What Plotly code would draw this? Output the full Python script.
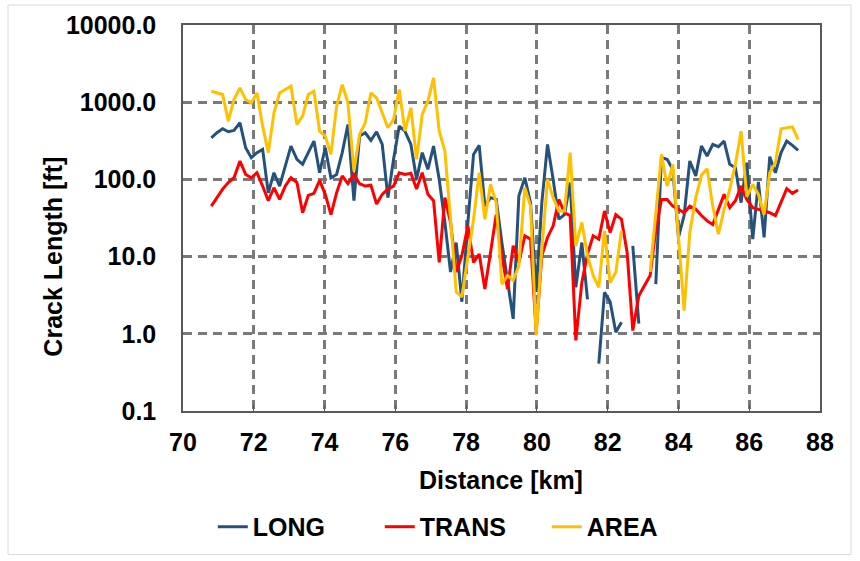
import plotly.graph_objects as go

# Station distance along the route [km]
distance_km = [
    70.80, 70.96, 71.12, 71.28, 71.44, 71.61, 71.77, 71.93, 72.09, 72.25,
    72.41, 72.57, 72.73, 72.89, 73.05, 73.22, 73.38, 73.54, 73.70, 73.86,
    74.02, 74.18, 74.34, 74.50, 74.66, 74.83, 74.99, 75.15, 75.31, 75.47,
    75.63, 75.79, 75.95, 76.11, 76.27, 76.44, 76.60, 76.76, 76.92, 77.08,
    77.24, 77.40, 77.56, 77.72, 77.88, 78.05, 78.21, 78.37, 78.53, 78.69,
    78.85, 79.01, 79.17, 79.33, 79.49, 79.66, 79.82, 79.98, 80.14, 80.30,
    80.46, 80.62, 80.78, 80.94, 81.10, 81.27, 81.43, 81.59, 81.75, 81.91,
    82.07, 82.23, 82.39, 82.55, 82.71, 82.88, 83.04, 83.20, 83.36, 83.52,
    83.68, 83.84, 84.00, 84.16, 84.32, 84.49, 84.65, 84.81, 84.97, 85.13,
    85.29, 85.45, 85.61, 85.77, 85.93, 86.10, 86.26, 86.42, 86.58, 86.74,
    86.90, 87.06, 87.22, 87.38,
]

# Longitudinal crack length [ft]
long_ft = [
    346, 402, 453, 414, 431, 541, 257, 191, 222, 245,
    67, 122, 82, 149, 270, 182, 157, 222, 314, 122,
    257, 105, 116, 222, 515, 53, 364, 402, 320, 414,
    284, 58, 182, 490, 422, 284, 100, 222, 135, 270,
    100, 27.7, 6.3, 15.2, 2.6, 27.7, 211, 276, 45, 58,
    55, 15.2, 4.6, 1.56, 61, 105, 50, 3.5, 50, 284,
    100, 30.5, 35, 91, 4.0, 15.2, 2.8, None, 0.41, 3.45,
    2.6, 1.05, 1.41, None, 13.8, 1.35, None, None, 4.4, 191,
    182, 135, 17.7, 34, 173, 111, 270, 201, 284, 265,
    314, 157, 142, 50, 165, 16.8, 93, 17.7, 197, 122,
    222, 314, 276, 238,
]

# Transverse crack length [ft]
trans_ft = [
    45, 58, 75, 91, 105, 173, 116, 105, 122, 82,
    53, 78, 55, 82, 105, 91, 37, 62, 66, 97,
    64, 35, 67, 111, 88, 116, 88, 82, 84, 48,
    64, 75, 82, 122, 116, 120, 75, 122, 64, 53,
    8.4, 58, 27.7, 6.3, 10.3, 25, 8.4, 10.8, 3.8, 11.3,
    35, 10.3, 3.8, 13.8, 8.4, 18.6, 16.8, 1.05, 10.3, 17.7,
    25, 55, 37, 34, 0.82, 4.6, 10.8, 18.6, 16.8, 39,
    20.5, 35, 30.5, 11.3, 1.1, 3.1, 4.2, 5.7, 22, 55,
    55, 45, 41, 37, 45, 41, 34, 29, 26, 41,
    64, 43, 53, 82, 55, 43, 41, 39, 37, 34,
    50, 76, 66, 73,
]

# Area cracking [ft]
area_ft = [
    1387, 1321, 1257, 569, 1082, 1531, 1082, 980, 1321, 490,
    222, 728, 1321, 1458, 1610, 515, 659, 1257, 1387, 422,
    364, 211, 888, 1691, 980, 129, 382, 541, 1321, 1137,
    728, 467, 597, 1458, 422, 845, 182, 693, 1030, 2061,
    422, 233, 30.5, 3.5, 3.0, 10.3, 30.5, 122, 30.5, 86,
    50, 4.4, 5.7, 4.9, 7.6, 78, 45, 0.95, 12.5, 100,
    58, 39, 39, 222, 13.8, 27.7, 10.3, 5.7, 4.0, 21.6,
    4.6, 6.3, 21.6, None, None, None, None, 6.3, 34, 211,
    82, 157, 18.6, 2.0, 20.5, 58, 113, 138, 45, 19.5,
    41, 75, 157, 422, 60, 86, 64, 35, 122, 165,
    453, 467, 480, 330,
]

y_tickvals = [0.1, 1, 10, 100, 1000, 10000]
y_ticktext = ["0.1", "1.0", "10.0", "100.0", "1000.0", "10000.0"]

FONT = "Liberation Sans"
series = [
    ("LONG", long_ft, "#24527D"),
    ("TRANS", trans_ft, "#FF0000"),
    ("AREA", area_ft, "#FFC000"),
]

fig = go.Figure()
for name, vals, color in series:
    fig.add_trace(go.Scatter(
        x=distance_km, y=vals, name=name, mode="lines",
        line=dict(color=color, width=3), connectgaps=False,
    ))

grid_style = dict(
    showgrid=True, gridcolor="#7A7A7A", gridwidth=2.5, griddash="9px,6px",
    showline=True, linecolor="#595959", linewidth=1.5, mirror=True,
    zeroline=False,
)

fig.update_xaxes(
    range=[70, 88], dtick=2, tick0=70,
    ticks="inside", ticklen=6, tickcolor="#595959",
    ticklabelstandoff=8,
    tickfont=dict(family=FONT, size=25, color="#000000", weight="bold"),
    **grid_style,
)
fig.update_yaxes(
    type="log", range=[-1, 4],
    tickvals=y_tickvals, ticktext=y_ticktext,
    ticks="", ticklabelstandoff=20,
    tickfont=dict(family=FONT, size=25, color="#000000", weight="bold"),
    **grid_style,
)

fig.add_annotation(
    text="<b>Distance [km]</b>", xref="paper", yref="paper",
    x=0.499, y=-0.178, showarrow=False, xanchor="center", yanchor="middle",
    font=dict(family=FONT, size=25, color="#000000"),
)
fig.add_annotation(
    text="<b>Crack Length [ft]</b>", xref="paper", yref="paper",
    x=-0.204, y=0.40, showarrow=False, textangle=-90,
    xanchor="center", yanchor="middle",
    font=dict(family=FONT, size=25, color="#000000"),
)

# Light frame around the whole chart
fig.add_shape(
    type="rect", xref="paper", yref="paper",
    x0=-0.2747, x1=1.0487, y0=-0.372, y1=1.0517,
    line=dict(color="#D9D9D9", width=1), layer="below",
)

fig.update_layout(
    width=860, height=561,
    margin=dict(l=183, r=40, t=25, b=149),
    paper_bgcolor="white", plot_bgcolor="white",
    font=dict(family=FONT, size=24, color="#000000"),
    showlegend=True,
    legend=dict(
        orientation="h", x=0.440, y=-0.297,
        xanchor="center", yanchor="middle",
        font=dict(family=FONT, size=25, color="#000000", weight="bold"),
        entrywidth=122, entrywidthmode="pixels",
        tracegroupgap=0,
    ),
)

fig.write_html("out.html")
